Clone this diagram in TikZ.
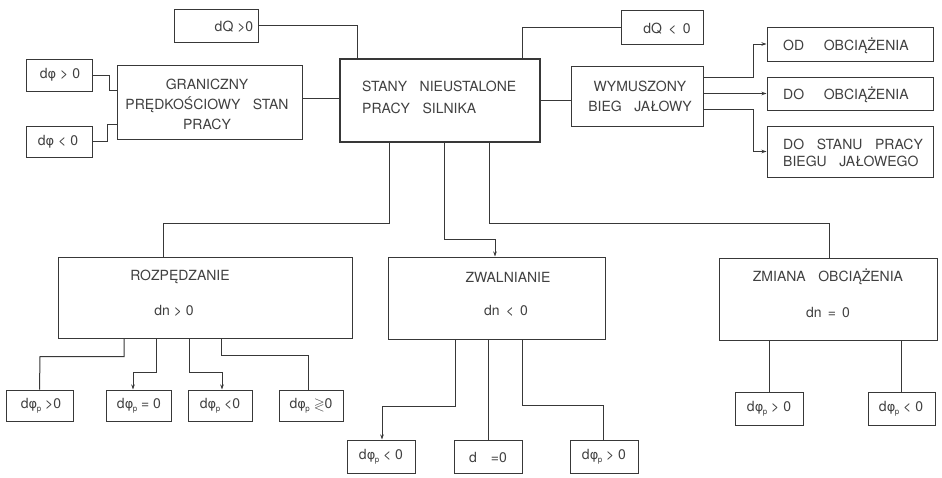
\documentclass[tikz,border=0pt]{standalone}
\usepackage{fontspec}
\usepackage{amssymb}
\setmainfont{TeX Gyre Heros}
\newfontfamily\grk{DejaVu Sans}
\usetikzlibrary{arrows.meta,calc}
\definecolor{linecol}{gray}{0.22}
\definecolor{textcol}{gray}{0.25}
\tikzset{
  box/.style={draw=linecol, line width=1pt, inner sep=0pt, rectangle},
  mainbox/.style={box, line width=2.6pt},
  txt/.style={font=\fontsize{14}{22}\selectfont, inner sep=0pt, text=textcol, align=center},
  conn/.style={draw=linecol, line width=1pt},
  arr/.style={conn, -{Stealth[length=5pt,width=3.5pt]}},
}
\newcommand\mybox[6][box]{\node[#1, minimum width={#5-#3}, minimum height={#6-#4}] (#2) at ({(#3+#5)/2},{(#4+#6)/2}) {};}
\newcommand\gap{\hspace{0.9em}}
\newcommand\myphi{{\grk\fontsize{13}{13}\selectfont φ}}
\newcommand\myphip{\myphi\kern-0.5pt\raisebox{-2.5pt}{\fontsize{8}{8}\selectfont p}}
\begin{document}
\begin{tikzpicture}[x=1pt,y=-1pt]
\useasboundingbox[fill=white] (0,0) rectangle (942,477);
% boxes
\mybox[mainbox]{main}{340}{59}{540}{142}
\mybox{dqp}{174}{9}{258}{42}
\mybox{dqm}{621}{10}{703}{44}
\mybox{gran}{117}{65}{302}{139}
\mybox{fp}{26}{59}{92}{91}
\mybox{fm}{26}{126}{92}{157}
\mybox{wym}{571}{66}{703}{126}
\mybox{od}{767}{27}{933}{61}
\mybox{do}{767}{77}{933}{110}
\mybox{dostan}{767}{126}{933}{177}
\mybox{roz}{58}{257}{352}{338}
\mybox{zwal}{388}{257}{605}{339}
\mybox{zmiana}{719}{258}{937}{340}
\mybox{r1}{6}{390}{73}{421}
\mybox{r2}{106}{390}{171}{421}
\mybox{r3}{188}{390}{252}{421}
\mybox{r4}{279}{390}{343}{421}
\mybox{z1}{347}{440}{415}{473}
\mybox{z2}{454}{440}{522}{473}
\mybox{z3}{570}{440}{638}{473}
\mybox{m1}{735}{392}{803}{425}
\mybox{m2}{868}{392}{935}{425}
% texts
\node[txt, anchor=west, align=left] (t-main) at (362,97) {STANY\gap NIEUSTALONE\\PRACY\gap SILNIKA};
\node[txt] (t-dqp) at (234,27) {dQ >0};
\node[txt] (t-dqm) at (667,29) {dQ \,<\, 0};
\node[txt, font=\fontsize{14}{20}\selectfont] (t-gran) at (207,104) {GRANICZNY\\PRĘDKOŚCIOWY\gap STAN\\PRACY};
\node[txt] (t-fp) at (60,75) {d\myphi\ > 0};
\node[txt] (t-fm) at (58,142) {d\myphi\ < 0};
\node[txt, font=\fontsize{14}{20}\selectfont] (t-wym) at (640,96) {WYMUSZONY\\BIEG\gap JAŁOWY};
\node[txt, anchor=west] (t-od) at (783,46) {OD\hspace{1.4em}OBCIĄŻENIA};
\node[txt, anchor=west] (t-do) at (783,95) {DO\hspace{1.4em}OBCIĄŻENIA};
\node[txt, anchor=west, align=left, font=\fontsize{14}{17}\selectfont] (t-dostan) at (783,153) {DO\gap STANU\gap PRACY\\BIEGU\gap JAŁOWEGO};
\node[txt] (t-roz1) at (180,277) {ROZPĘDZANIE};
\node[txt] (t-roz2) at (174,311) {dn > 0};
\node[txt] (t-zwal1) at (508,277) {ZWALNIANIE};
\node[txt] (t-zwal2) at (506,311) {dn \,<\, 0};
\node[txt] (t-zm1) at (828,277) {ZMIANA\gap OBCIĄŻENIA};
\node[txt] (t-zm2) at (828,312) {dn \,=\, 0};
\node[txt] (t-r1) at (41,406) {d\myphip\ >0};
\node[txt] (t-r2) at (139,406) {d\myphip\ = 0};
\node[txt] (t-r3) at (220,406) {d\myphip\ <0};
\node[txt] (t-r4) at (311,406) {d\myphip\ $\gtrless$0};
\node[txt] (t-z1) at (381,457) {d\myphip\ < 0};
\node[txt] (t-z2) at (488,457) {d\hspace{1em}=0};
\node[txt] (t-z3) at (604,457) {d\myphip\ > 0};
\node[txt] (t-m1) at (769,409) {d\myphip\ > 0};
\node[txt] (t-m2) at (901,409) {d\myphip\ < 0};
% connectors, top part
\draw[conn] (dqp.east) -| ($(main.north)+(-83,0)$);
\draw[conn] (dqm.west) -| ($(main.north)+(82,0)$);
\draw[conn] ($(main.west)+(0,-2)$) -- ($(main.west -| gran.east)+(0,-2)$);
\draw[conn] ($(gran.west)+(0,-12)$) -- ++(-7,0) |- (fp.east);
\draw[conn] ($(gran.west)+(0,22)$) -- ++(-9,0) |- (fm.east);
\draw[conn] (main.east) -- (main.east -| wym.west);
\draw[arr] ($(wym.east)+(0,-19)$) -- ++(50,0) |- (od.west);
\draw[arr] ($(wym.east)+(0,-2.5)$) -- (do.west);
\draw[arr] ($(wym.east)+(0,13)$) -- ++(50,0) |- (dostan.west);
% connectors to the lower level
\draw[conn] ($(main.south)+(-51,0)$) |- ($(roz.north)+(-42,-33)$) -- ($(roz.north)+(-42,0)$);
\draw[arr] ($(main.south)+(4,0)$) |- ($(zwal.north)+(-1.5,-17)$) -- ($(zwal.north)+(-1.5,0)$);
\draw[conn] ($(main.south)+(49,0)$) |- ($(zmiana.north)+(1,-34)$) -- ($(zmiana.north)+(1,0)$);
% Rozpedzanie
\draw[conn] ($(roz.south)+(-81,0)$) |- ($(r1.north)+(0.5,-33)$) -- (r1.north);
\draw[arr] ($(roz.south)+(-49,0)$) |- ($(r2.north)+(-5.5,-17)$) -- ($(r2.north)+(-5.5,0)$);
\draw[arr] ($(roz.south)+(-16,0)$) |- ($(r3.north)+(2,-17)$) -- ($(r3.north)+(2,0)$);
\draw[conn] ($(roz.south)+(16,0)$) |- ($(r4.north)+(-3,-34)$) -- ($(r4.north)+(-3,0)$);
% Zwalnianie
\draw[arr] ($(zwal.south)+(-41.5,0)$) |- ($(z1.north)+(1,-33)$) -- ($(z1.north)+(1,0)$);
\draw[conn] (zwal.south -| z2.north) -- (z2.north);
\draw[conn] ($(zwal.south)+(25.5,0)$) |- ($(z3.north)+(-1,-34)$) -- ($(z3.north)+(-1,0)$);
% Zmiana
\draw[conn] (zmiana.south -| m1.north) -- (m1.north);
\draw[conn] (zmiana.south -| m2.north) -- (m2.north);
\end{tikzpicture}
\end{document}
